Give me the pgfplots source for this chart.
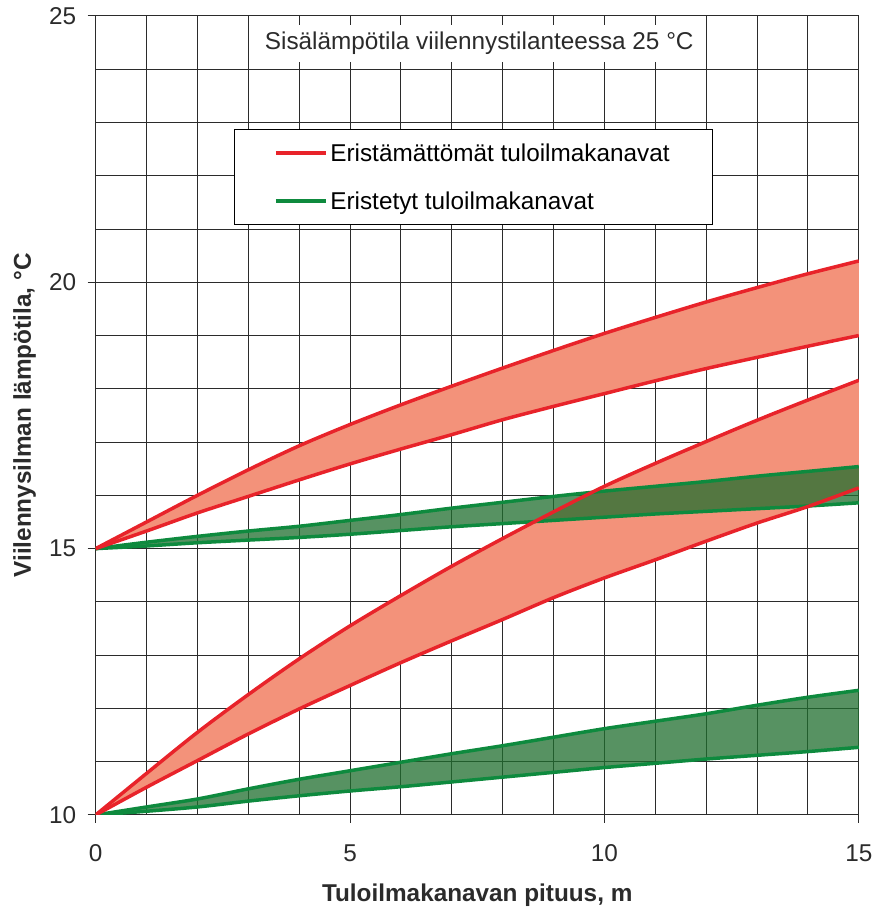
\documentclass[border=0pt]{standalone}
\usepackage{fontspec}
\setmainfont{Liberation Sans}
\usepackage{pgfplots}
\pgfplotsset{compat=1.18}
\usepackage{pgfplotstable}
\usepgfplotslibrary{fillbetween}
\usetikzlibrary{calc}
\definecolor{lred}{HTML}{E8232A}
\definecolor{salmon}{HTML}{F3927A}
\definecolor{lgreen}{HTML}{0E8A3E}
\definecolor{bandgreen}{HTML}{1F6E2E}
\definecolor{gridc}{HTML}{2B2B2B}

\pgfplotstableread{
x  rAu   rAl   gAu   gAl   rBu   rBl   gBu   gBl
0  15.00 15.00 15.00 15.00 10.00 10.00 10.00 10.00
1  15.50 15.33 15.12 15.05 10.78 10.52 10.15 10.07
2  16.00 15.67 15.23 15.11 11.55 11.02 10.30 10.15
3  16.48 15.98 15.33 15.16 12.26 11.52 10.49 10.26
4  16.93 16.29 15.42 15.21 12.93 11.99 10.67 10.36
5  17.33 16.59 15.53 15.27 13.55 12.43 10.83 10.45
6  17.70 16.87 15.64 15.34 14.12 12.86 10.99 10.53
7  18.05 17.14 15.76 15.41 14.67 13.27 11.15 10.62
8  18.39 17.42 15.87 15.47 15.19 13.67 11.30 10.71
9  18.72 17.67 15.98 15.53 15.69 14.08 11.46 10.80
10 19.04 17.91 16.08 15.59 16.17 14.45 11.62 10.89
11 19.34 18.15 16.17 15.65 16.60 14.79 11.76 10.97
12 19.63 18.38 16.26 15.70 17.01 15.14 11.90 11.05
13 19.90 18.59 16.36 15.75 17.41 15.48 12.06 11.12
14 20.16 18.80 16.45 15.80 17.79 15.79 12.21 11.19
15 20.40 19.00 16.54 15.86 18.16 16.14 12.34 11.27
}\data

\begin{document}
\begin{tikzpicture}
\begin{axis}[
  scale only axis, width=766bp, height=802bp,
  xmin=0, xmax=15, ymin=10, ymax=25,
  xtick={0,5,10,15}, ytick={10,15,20,25},
  minor tick num=4, grid=both,
  major grid style={line width=1bp, gridc},
  minor grid style={line width=1bp, gridc},
  tick align=outside, tick pos=left,
  major tick length=8bp, minor tick length=0pt,
  every tick/.style={line width=1bp, gridc},
  axis line style={line width=1bp, gridc},
  tick label style={font=\fontsize{24.5}{29}\selectfont, text=gridc},
  xticklabel style={yshift=-18bp},
  yticklabel style={xshift=-8bp},
  /pgf/number format/assume math mode=true,
  xlabel={Tuloilmakanavan pituus, m},
  ylabel={Viilennysilman lämpötila, °C},
  label style={font=\fontsize{24.5}{29}\selectfont\bfseries, text=gridc},
  xlabel style={at={(axis description cs:0.5,0)}, anchor=base, yshift=-87bp},
  ylabel style={at={(axis description cs:-0.093,0.5)}, anchor=center},
  legend style={at={(axis cs:2.72,22.87)}, anchor=north west, draw=black, fill=white,
    inner xsep=40bp, inner ysep=11bp, row sep=23bp,
    font=\fontsize{24.5}{29}\selectfont, nodes={inner sep=3bp}},
  legend cell align=left,
  legend image code/.code={\draw[#1] (0bp,0bp) -- (50bp,0bp);},
]
% green lines first
\addplot[name path=gAu, smooth, lgreen, line width=3.5bp, forget plot] table[x=x,y=gAu]{\data};
\addplot[name path=gAl, smooth, lgreen, line width=3.5bp, forget plot] table[x=x,y=gAl]{\data};
\addplot[name path=gBu, smooth, lgreen, line width=3.5bp, forget plot] table[x=x,y=gBu]{\data};
\addplot[name path=gBl, smooth, lgreen, line width=3.5bp, forget plot] table[x=x,y=gBl]{\data};
% red paths
\addplot[name path=rAu, smooth, draw=none, forget plot] table[x=x,y=rAu]{\data};
\addplot[name path=rAl, smooth, draw=none, forget plot] table[x=x,y=rAl]{\data};
\addplot[name path=rBu, smooth, draw=none, forget plot] table[x=x,y=rBu]{\data};
\addplot[name path=rBl, smooth, draw=none, forget plot] table[x=x,y=rBl]{\data};
\addplot[salmon, forget plot] fill between[of=rAu and rAl];
\addplot[salmon, forget plot] fill between[of=rBu and rBl];
% red lines
\addplot[smooth, lred, line width=3.5bp, forget plot] table[x=x,y=rAu]{\data};
\addplot[smooth, lred, line width=3.5bp, forget plot] table[x=x,y=rAl]{\data};
\addplot[smooth, lred, line width=3.5bp, forget plot] table[x=x,y=rBu]{\data};
\addplot[smooth, lred, line width=3.5bp, forget plot] table[x=x,y=rBl]{\data};
% green fills on top
\addplot[bandgreen, fill opacity=0.75, forget plot] fill between[of=gAu and gAl];
\addplot[bandgreen, fill opacity=0.75, forget plot] fill between[of=gBu and gBl];

\node[fill=white, inner xsep=9bp, inner ysep=0bp, minimum height=37bp, anchor=center,
      font=\fontsize{24.5}{29}\selectfont, text=gridc]
  at (axis cs:7.54,24.49) {Sisälämpötila viilennystilanteessa 25 °C};

\addlegendimage{lred, line width=3.5bp}
\addlegendentry{Eristämättömät tuloilmakanavat}
\addlegendimage{lgreen, line width=3.5bp}
\addlegendentry{Eristetyt tuloilmakanavat}
\end{axis}
\path ($(current axis.south west)+(-96bp,-92bp)$) rectangle ($(current axis.north east)+(15bp,16bp)$);
\end{tikzpicture}
\end{document}
